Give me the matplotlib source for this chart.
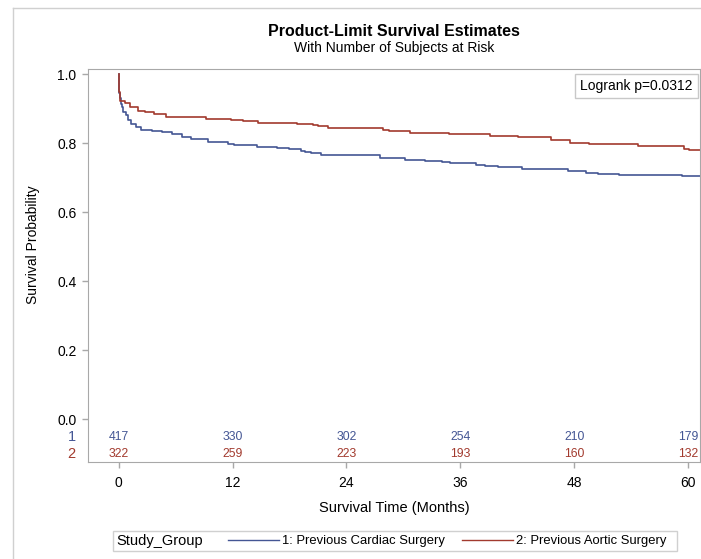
import matplotlib
matplotlib.use("Agg")
import matplotlib.pyplot as plt
from matplotlib.lines import Line2D
from matplotlib.patches import Rectangle

plt.rcParams['font.family'] = ['Liberation Sans Narrow', 'Liberation Sans', 'DejaVu Sans']

# Kaplan-Meier step estimates
t_cardiac = [0, 0.05, 0.12, 0.2, 0.32, 0.5, 0.74, 1.0, 1.3, 1.8, 2.3, 3.5, 4.6, 5.6, 6.7, 7.6,
             9.4, 11.5, 12.2, 14.6, 16.7, 17.9, 19.2, 19.6, 20.3, 21.3, 27.5, 30.2, 32.3, 34.1,
             34.9, 37.7, 38.6, 40.0, 42.5, 47.3, 49.2, 50.5, 52.7, 59.4, 61.3]
s_cardiac = [1.0, 0.945, 0.93, 0.915, 0.905, 0.892, 0.881, 0.868, 0.857, 0.846, 0.840, 0.836,
             0.832, 0.826, 0.818, 0.813, 0.805, 0.797, 0.794, 0.790, 0.786, 0.783, 0.779, 0.775,
             0.772, 0.765, 0.758, 0.752, 0.748, 0.745, 0.743, 0.738, 0.735, 0.732, 0.726, 0.721,
             0.715, 0.712, 0.709, 0.706, 0.706]
t_aortic = [0, 0.05, 0.15, 0.7, 1.2, 2.0, 2.8, 3.7, 5.0, 9.2, 11.8, 13.1, 14.7, 18.8, 20.5, 21.0,
            22.1, 27.9, 28.5, 30.7, 34.8, 39.1, 42.1, 45.6, 47.6, 49.6, 54.7, 59.6, 60.1, 61.3]
s_aortic = [1.0, 0.95, 0.924, 0.916, 0.905, 0.895, 0.890, 0.884, 0.875, 0.871, 0.867, 0.864,
            0.860, 0.857, 0.853, 0.849, 0.844, 0.840, 0.836, 0.830, 0.826, 0.821, 0.817, 0.811,
            0.801, 0.798, 0.793, 0.784, 0.780, 0.780]

risk_times = [0, 12, 24, 36, 48, 60]
risk_cardiac = [417, 330, 302, 254, 210, 179]
risk_aortic = [322, 259, 223, 193, 160, 132]

labels = ["1: Previous Cardiac Surgery", "2: Previous Aortic Surgery"]
BLUE, RED, GRAY = "#445694", "#A23A2E", "#A8A8A8"

fig = plt.figure(figsize=(7.01, 5.59), dpi=100)
ax = fig.add_axes([88.3/701, 1-461.7/559, (700-88.3)/701, (461.7-69)/559])

ax.step(t_cardiac, s_cardiac, where="post", color=BLUE, lw=1.2)
ax.step(t_aortic, s_aortic, where="post", color=RED, lw=1.2)

ax.set_xlim(-3.2, 61.25)
ax.set_ylim(-0.123, 1.0155)
ax.set_xticks(risk_times)
ax.set_yticks([0, 0.2, 0.4, 0.6, 0.8, 1.0])
ax.set_yticklabels(["0.0", "0.2", "0.4", "0.6", "0.8", "1.0"])
ax.tick_params(colors=GRAY, labelcolor="black", labelsize=10, length=4.5, width=1)
ax.tick_params(axis="x", pad=5.5)
ax.tick_params(axis="y", pad=4)
for s in ax.spines.values():
    s.set_color(GRAY)

# at-risk table inside the plot area
for t, n1, n2 in zip(risk_times, risk_cardiac, risk_aortic):
    ax.text(t, -0.052, str(n1), color=BLUE, fontsize=8.8, ha="center", va="center")
    ax.text(t, -0.101, str(n2), color=RED, fontsize=8.8, ha="center", va="center")
ax.text(-4.95, -0.052, "1", color=BLUE, fontsize=10.5, ha="center", va="center", clip_on=False)
ax.text(-4.95, -0.101, "2", color=RED, fontsize=10.5, ha="center", va="center", clip_on=False)

ax.text(0.988, 0.975, "Logrank p=0.0312", transform=ax.transAxes, ha="right", va="top",
        fontsize=10, bbox=dict(boxstyle="square,pad=0.35", fc="white", ec="#C8C8C8", lw=1))

fig.text(394/701, 1-31/559, "Product-Limit Survival Estimates", ha="center", va="center",
         fontsize=11.5, fontweight="bold")
fig.text(394/701, 1-48/559, "With Number of Subjects at Risk", ha="center", va="center", fontsize=10)
fig.text(33/701, 1-245/559, "Survival Probability", rotation=90, ha="center", va="center", fontsize=10)
fig.text(394/701, 1-508/559, "Survival Time (Months)", ha="center", va="center", fontsize=10.5)

# legend strip at the bottom
fig.patches.append(Rectangle((113/701, 1-550.7/559), (677-113)/701, 20/559, transform=fig.transFigure,
                             fc="white", ec="#D0D0D0", lw=1))
fig.text(116/701, 1-541/559, "Study_Group", ha="left", va="center", fontsize=10.5)
handles = [Line2D([], [], color=BLUE, lw=1), Line2D([], [], color=RED, lw=1)]
fig.legend(handles, labels, ncol=2, frameon=False, loc="center", bbox_to_anchor=(447/701, 1-541/559),
           fontsize=9.4, handlelength=3.9, handletextpad=0.25, columnspacing=1.3)

# outer graph border
fig.add_artist(Line2D([13/701, 1], [1-8/559, 1-8/559], transform=fig.transFigure, color="#D0D0D0", lw=1))
fig.add_artist(Line2D([13/701, 13/701], [0, 1-8/559], transform=fig.transFigure, color="#D0D0D0", lw=1))

fig.savefig("out.png", dpi=100)
